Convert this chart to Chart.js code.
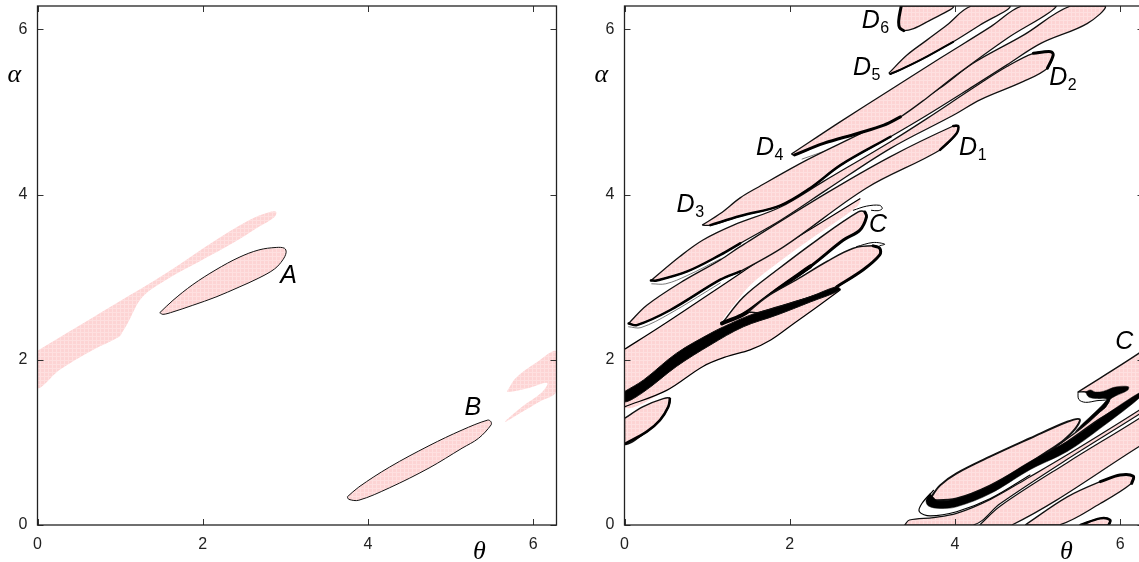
<!DOCTYPE html>
<html>
<head>
<meta charset="utf-8">
<title>theta alpha regions</title>
<script src="https://cdn.jsdelivr.net/npm/chart.js"></script>
<style>
  html, body { margin: 0; padding: 0; background: #fff; overflow: hidden; }
  #wrap { position: relative; width: 1139px; height: 562px; overflow: hidden; }
  canvas { position: absolute; top: 0; }
</style>
</head>
<body>
<div id="wrap">
  <canvas id="left" width="570" height="562" style="left:0"></canvas>
  <canvas id="right" width="570" height="562" style="left:587px"></canvas>
</div>
<script>
// axes
const tickValues = [0, 2, 4, 6];
const axisMax = 6.283;

// left panel
const bandTheta = [0, 0.35, 0.95, 1.56, 2.16, 2.56, 2.81, 2.89, 2.87, 2.68, 2.36, 1.96, 1.56, 1.27, 1.09, 1.03, 0.99, 0.67, 0.27, 0];
const bandAlpha = [2.11, 2.32, 2.68, 3.05, 3.45, 3.69, 3.79, 3.79, 3.73, 3.61, 3.41, 3.19, 2.97, 2.76, 2.44, 2.34, 2.28, 2.12, 1.88, 1.66];
const wedgeTheta = [5.69, 5.79, 6.03, 6.283, 6.283, 6.07, 5.85, 5.66, 5.85, 6.1, 6.17, 5.95, 5.69];
const wedgeAlpha = [1.63, 1.78, 1.96, 2.1, 1.62, 1.49, 1.36, 1.25, 1.42, 1.6, 1.72, 1.66, 1.61];
const aTheta = [1.48, 1.64, 1.88, 2.16, 2.44, 2.68, 2.89, 2.99, 3.01, 2.97, 2.87, 2.68, 2.44, 2.16, 1.88, 1.64, 1.52];
const aAlpha = [2.57, 2.72, 2.91, 3.09, 3.24, 3.33, 3.36, 3.35, 3.3, 3.21, 3.1, 2.99, 2.88, 2.76, 2.66, 2.58, 2.55];
const bTheta = [3.75, 3.89, 4.26, 4.74, 5.14, 5.45, 5.49, 5.49, 5.34, 5.14, 4.74, 4.26, 3.89, 3.77];
const bAlpha = [0.34, 0.46, 0.7, 0.96, 1.15, 1.27, 1.25, 1.21, 1.05, 0.93, 0.69, 0.45, 0.3, 0.31];

// right panel, upper fingers
const d1Theta = [0.05, 0.27, 0.67, 1.16, 1.4, 2.45, 3.22, 3.98, 4.04, 4.02, 3.82, 2.93, 1.93, 1.4, 1.16, 0.55, 0.15];
const d1Alpha = [2.44, 2.66, 2.93, 3.21, 3.37, 4.02, 4.46, 4.83, 4.83, 4.74, 4.54, 4.08, 3.37, 3.07, 2.97, 2.6, 2.42];
const d2Theta = [0.32, 0.67, 0.95, 1.32, 1.89, 2.41, 3.22, 3.66, 4.22, 4.63, 4.95, 5.16, 5.19, 5.12, 4.83, 4.31, 3.98, 3.22, 2.45, 1.89, 1.4, 1.16, 0.76, 0.39];
const d2Alpha = [2.96, 3.25, 3.45, 3.63, 3.85, 4.16, 4.64, 4.92, 5.29, 5.55, 5.71, 5.73, 5.69, 5.53, 5.37, 5.15, 4.96, 4.56, 4.06, 3.69, 3.41, 3.27, 3.07, 2.96];
const d3Theta = [0.94, 1.16, 1.4, 1.6, 2.21, 2.82, 3.34, 3.82, 4.22, 4.83, 5.4, 5.82, 5.6, 5.04, 4.63, 4.22, 3.66, 3.22, 2.62, 2.25, 1.89, 1.4, 1.04];
const d3Alpha = [3.63, 3.77, 3.96, 4.08, 4.42, 4.72, 4.98, 5.29, 5.59, 5.93, 6.283, 6.283, 6.07, 5.83, 5.57, 5.31, 4.96, 4.7, 4.36, 4.08, 3.87, 3.74, 3.63];
const d4Theta = [2.02, 2.61, 3.22, 3.82, 4.43, 4.81, 5.23, 4.63, 4.02, 3.66, 3.34, 3.14, 2.82, 2.41, 2.06];
const d4Alpha = [4.49, 4.88, 5.27, 5.65, 6.03, 6.283, 6.283, 5.89, 5.45, 5.17, 4.94, 4.84, 4.74, 4.62, 4.48];
const d5Theta = [3.2, 3.42, 3.66, 3.9, 4.2, 4.67, 4.3, 3.98, 3.66, 3.38, 3.22];
const d5Alpha = [5.47, 5.69, 5.87, 6.05, 6.283, 6.283, 6.05, 5.85, 5.67, 5.53, 5.46];
const d6Theta = [3.35, 3.32, 3.33, 3.38, 3.5, 3.66, 3.98];
const d6Alpha = [6.283, 6.11, 6.02, 5.985, 6.01, 6.09, 6.283];
// thin lines that run just outside the fingers
const echo1Theta = [0.05, 0.2, 0.55, 1.16];
const echo1Alpha = [2.4, 2.39, 2.56, 2.93];
const echo2Theta = [0.33, 0.5, 0.76, 1.16];
const echo2Alpha = [2.92, 2.92, 3.02, 3.22];
const echo4Theta = [2.15, 2.8, 3.1, 3.4];
const echo4Alpha = [4.43, 4.66, 4.78, 4.98];

// right panel, middle band and the black spine
const midTheta = [0, 0.43, 1.16, 1.77, 2.25, 2.85, 2.82, 2.25, 1.85, 1.56, 1.4, 1.18, 1.5, 1.85, 2.25, 2.57, 2.61, 2.33, 2.05, 1.77, 1.52, 1.24, 0.95, 0.51, 0];
const midAlpha = [2.127, 2.4, 2.885, 3.289, 3.58, 3.95, 3.86, 3.46, 3.17, 2.94, 2.76, 2.44, 2.56, 2.64, 2.76, 2.885, 2.845, 2.64, 2.44, 2.24, 2.12, 2.04, 1.92, 1.63, 1.43];
const cTheta = [1.18, 1.44, 1.85, 2.33, 2.83, 2.91, 2.93, 2.85, 2.65, 2.25, 1.85, 1.52, 1.42];
const cAlpha = [2.44, 2.76, 3.09, 3.45, 3.79, 3.79, 3.73, 3.57, 3.45, 3.13, 2.85, 2.6, 2.54];
const eTheta = [1.5, 1.72, 2.085, 2.45, 2.77, 3.01, 3.09, 3.09, 2.89, 2.57, 2.25, 1.85, 1.61];
const eAlpha = [2.58, 2.76, 2.97, 3.19, 3.35, 3.38, 3.35, 3.27, 3.09, 2.885, 2.76, 2.64, 2.57];
const hook1Theta = [2.77, 2.93, 3.09, 3.12, 3.07, 2.99];
const hook1Alpha = [3.81, 3.86, 3.87, 3.83, 3.805, 3.81];
const hook2Theta = [2.81, 3.01, 3.15, 3.09];
const hook2Alpha = [3.37, 3.42, 3.4, 3.38];
const spineTheta = [0, 0.23, 0.63, 1.04, 1.2, 1.52, 1.84, 2.25, 2.57, 2.61, 2.25, 1.84, 1.44, 1.04, 0.63, 0.23, 0];
const spineAlpha = [1.615, 1.755, 2.08, 2.32, 2.4, 2.54, 2.635, 2.765, 2.885, 2.845, 2.7, 2.54, 2.4, 2.18, 1.92, 1.61, 1.49];
const smallTheta = [0, 0.22, 0.47, 0.55, 0.53, 0.43, 0.27, 0];
const smallAlpha = [1.29, 1.43, 1.53, 1.53, 1.43, 1.27, 1.13, 0.98];

// right panel, lower right corner
const rTheta = [5.49, 6.23, 6.283, 6.283, 6.23, 5.76, 5.36, 5.15, 5.54, 5.76, 5.87, 5.76, 5.65, 5.59, 5.49];
const rAlpha = [1.61, 2.08, 2.14, 1.62, 1.57, 1.29, 1.01, 0.89, 1.18, 1.38, 1.51, 1.55, 1.57, 1.61, 1.61];
const pocketTheta = [5.49, 5.5, 5.58, 5.72, 5.86, 5.88];
const pocketAlpha = [1.61, 1.52, 1.485, 1.505, 1.52, 1.55];
const sTheta = [5.58, 5.64, 5.7, 5.8, 5.94, 6.1, 6.09, 5.94, 5.88, 5.83, 5.76, 5.56, 5.46, 5.51, 5.7, 5.8, 5.84, 5.72, 5.62];
const sAlpha = [1.61, 1.635, 1.61, 1.62, 1.67, 1.675, 1.63, 1.56, 1.52, 1.43, 1.37, 1.2, 1.13, 1.19, 1.37, 1.47, 1.53, 1.53, 1.55];
const hTheta = [3.7, 3.82, 4.02, 4.43, 4.91, 5.36, 5.51, 5.46, 5.32, 5.15, 4.87, 4.43, 4.02, 3.74];
const hAlpha = [0.32, 0.48, 0.625, 0.83, 1.05, 1.25, 1.28, 1.17, 1.03, 0.91, 0.73, 0.48, 0.32, 0.3];
const crescentTheta = [3.7, 3.65, 3.68, 3.82, 4.02, 4.43, 4.91, 5.36, 5.76, 6.283, 6.283, 5.76, 5.36, 4.91, 4.43, 4.02, 3.8, 3.74];
const crescentAlpha = [0.38, 0.3, 0.23, 0.2, 0.22, 0.38, 0.67, 0.89, 1.17, 1.58, 1.63, 1.29, 1.01, 0.77, 0.48, 0.32, 0.29, 0.335];
const loopTheta = [4.91, 4.43, 4.02, 3.7, 3.57, 3.6, 3.74];
const loopAlpha = [0.605, 0.32, 0.16, 0.11, 0.16, 0.26, 0.42];
const kTheta = [3.39, 3.45, 3.74, 4.02, 4.43, 4.91, 5.36, 6.23, 6.283, 6.283, 6.23, 5.36, 4.55, 4.22];
const kAlpha = [0, 0.06, 0.09, 0.14, 0.31, 0.585, 0.85, 1.39, 1.44, 1.38, 1.34, 0.795, 0.26, 0];
const mTheta = [4.3, 4.55, 5.36, 6.23, 6.283, 6.283, 6.23, 4.69];
const mAlpha = [0, 0.23, 0.755, 1.29, 1.34, 1.0, 0.95, 0];
const nTheta = [4.85, 5.36, 5.76, 6.0, 6.16, 6.14, 5.76, 5.26];
const nAlpha = [0, 0.34, 0.525, 0.605, 0.59, 0.505, 0.26, 0];
const pTheta = [5.52, 5.76, 5.88, 5.86];
const pAlpha = [0, 0.08, 0.06, 0];

// labels
const leftLabels = ['A', 'B'];
const leftLabelTheta = [3.04, 5.27];
const leftLabelAlpha = [3.01, 1.42];
const rightLabels = ['C', 'C', 'D', 'D', 'D', 'D', 'D', 'D'];
const rightLabelSubs = ['', '', '1', '2', '3', '4', '5', '6'];
const rightLabelTheta = [3.07, 6.05, 4.16, 5.25, 0.74, 1.7, 2.875, 2.98];
const rightLabelAlpha = [3.63, 2.22, 4.56, 5.41, 3.87, 4.56, 5.53, 6.1];
const axisNames = ['θ', 'α'];
const axisNameTheta = [5.35, -0.28];
const axisNameAlpha = [-0.33, 5.44];

function pinkPattern() {
    const tile = document.createElement('canvas');
    tile.width = 4; tile.height = 4;
    const c = tile.getContext('2d');
    c.fillStyle = '#fdd4d4';
    c.fillRect(0, 0, 4, 4);
    c.fillStyle = '#fee0e0';
    c.fillRect(0, 0, 4, 1);
    c.fillRect(0, 0, 1, 4);
    return c.createPattern(tile, 'repeat');
}
const pink = pinkPattern();

function zip(thetas, alphas) {
    return thetas.map((t, i) => ({x: t, y: alphas[i]}));
}

// closed filled region, width 0 means no outline
function region(thetas, alphas, width, colour) {
    const pts = zip(thetas, alphas);
    pts.push(pts[0]);
    return {
        data: pts, showLine: true, pointRadius: 0, tension: 0.35,
        fill: 'shape', backgroundColor: colour || pink,
        borderColor: '#111', borderWidth: width
    };
}

// open line only
function stroke(thetas, alphas, width, colour) {
    return {
        data: zip(thetas, alphas), showLine: true, pointRadius: 0, tension: 0.35,
        fill: false, borderColor: colour || '#000', borderWidth: width, borderCapStyle: 'round'
    };
}

const leftSets = [
    region(bandTheta, bandAlpha, 0),
    region(wedgeTheta, wedgeAlpha, 0),
    region(aTheta, aAlpha, 1),
    region(bTheta, bAlpha, 1)
];

const rightSets = [
    region(midTheta, midAlpha, 0),
    stroke(midTheta.slice(0, 6), midAlpha.slice(0, 6), 1.2),
    stroke(midTheta.slice(16), midAlpha.slice(16), 1.2),
    region(cTheta, cAlpha, 1.5),
    stroke(cTheta.slice(5), cAlpha.slice(5), 3),
    stroke(cTheta.slice(9).concat(cTheta[0]), cAlpha.slice(9).concat(cAlpha[0]), 4),
    region(eTheta, eAlpha, 1.5),
    stroke(eTheta.slice(5, 10), eAlpha.slice(5, 10), 3),
    stroke(hook1Theta, hook1Alpha, 1),
    stroke(hook2Theta, hook2Alpha, 1),
    region(spineTheta, spineAlpha, 1, '#000'),
    region(smallTheta, smallAlpha, 1.5),
    stroke(smallTheta.slice(3), smallAlpha.slice(3), 2.5),
    stroke(echo1Theta, echo1Alpha, 0.8, '#555'),
    stroke(echo2Theta, echo2Alpha, 0.8, '#555'),
    stroke(echo4Theta, echo4Alpha, 0.8, '#555'),
    region(d1Theta, d1Alpha, 1.3),
    stroke(d1Theta.slice(13).concat(d1Theta[0]), d1Alpha.slice(13).concat(d1Alpha[0]), 2.5),
    stroke(d1Theta.slice(7, 11), d1Alpha.slice(7, 11), 2.5),
    region(d2Theta, d2Alpha, 1.3),
    stroke(d2Theta.slice(20).concat(d2Theta[0]), d2Alpha.slice(20).concat(d2Alpha[0]), 2.5),
    stroke(d2Theta.slice(10, 14), d2Alpha.slice(10, 14), 3),
    region(d3Theta, d3Alpha, 1.3),
    stroke(d3Theta.slice(17), d3Alpha.slice(17), 2.5),
    region(d4Theta, d4Alpha, 1.3),
    stroke(d4Theta.slice(10), d4Alpha.slice(10), 3),
    region(d5Theta, d5Alpha, 1.3),
    stroke(d5Theta.slice(7), d5Alpha.slice(7), 2),
    region(d6Theta, d6Alpha, 1.3),
    stroke(d6Theta.slice(0, 4), d6Alpha.slice(0, 4), 3),
    region(mTheta, mAlpha, 1.2),
    region(kTheta, kAlpha, 1.2),
    region(nTheta, nAlpha, 1.3),
    stroke(nTheta.slice(2, 6), nAlpha.slice(2, 6), 3),
    region(pTheta, pAlpha, 1.3),
    stroke(pTheta, pAlpha, 2.5),
    region(rTheta, rAlpha, 1.4),
    stroke(pocketTheta, pocketAlpha, 1),
    region(sTheta, sAlpha, 0.5, '#000'),
    region(hTheta, hAlpha, 2),
    region(crescentTheta, crescentAlpha, 0.5, '#000'),
    stroke(loopTheta, loopAlpha, 1.2)
];

// frame, inward ticks and the letters on top of the marks
const framePlugin = {
    id: 'frame',
    afterDatasetsDraw(chart, args, opts) {
        const c = chart.ctx, a = chart.chartArea;
        const x = chart.scales.x, y = chart.scales.y;
        c.save();
        c.strokeStyle = '#333';
        c.lineWidth = 1;
        tickValues.forEach(v => {
            const px = Math.round(x.getPixelForValue(v)) + 0.5;
            const py = Math.round(y.getPixelForValue(v)) + 0.5;
            c.beginPath();
            c.moveTo(px, a.bottom); c.lineTo(px, a.bottom - 6);
            c.moveTo(px, a.top); c.lineTo(px, a.top + 6);
            c.moveTo(a.left, py); c.lineTo(a.left + 6, py);
            c.moveTo(a.right, py); c.lineTo(a.right - 6, py);
            c.stroke();
        });
        c.strokeStyle = '#222';
        c.lineWidth = 1.3;
        c.strokeRect(a.left, a.top, a.right - a.left, a.bottom - a.top);

        c.fillStyle = '#000';
        c.textAlign = 'center';
        c.textBaseline = 'middle';
        opts.labels.forEach((t, i) => {
            const px = x.getPixelForValue(opts.labelTheta[i]);
            const py = y.getPixelForValue(opts.labelAlpha[i]);
            c.font = 'italic 25px "Liberation Sans"';
            c.fillText(t, px, py);
            if (opts.subs && opts.subs[i]) {
                c.font = '16px "Liberation Sans"';
                c.fillText(opts.subs[i], px + 14, py + 7);
            }
        });
        c.font = 'italic 26px "Liberation Serif"';
        axisNames.forEach((t, i) => {
            c.fillText(t, x.getPixelForValue(axisNameTheta[i]), y.getPixelForValue(axisNameAlpha[i]));
        });
        c.restore();
    }
};

function makeChart(id, datasets, labels, labelTheta, labelAlpha, subs) {
    const axis = (size) => ({
        type: 'linear', min: 0, max: axisMax,
        grid: {display: false, drawTicks: false},
        border: {display: false},
        afterBuildTicks: s => { s.ticks = tickValues.map(v => ({value: v})); },
        afterFit: s => {
            // fixed plot box, no extra room for the tick labels
            if (size.w) s.width = size.w;
            if (size.h) s.height = size.h;
            s.paddingTop = s.paddingBottom = s.paddingLeft = s.paddingRight = 0;
        },
        ticks: {
            padding: 10, color: '#222', maxRotation: 0, autoSkip: false,
            font: {family: '"Liberation Sans"', size: 16}
        }
    });
    return new Chart(document.getElementById(id), {
        type: 'scatter',
        data: {datasets: datasets.map((d, i) => Object.assign(d, {order: -i}))},
        options: {
            responsive: false,
            animation: false,
            devicePixelRatio: 1,
            layout: {padding: {top: 6, right: 13.5, left: 0, bottom: 0}},
            scales: {x: axis({h: 37}), y: axis({w: 37.5})},
            plugins: {
                legend: {display: false},
                tooltip: {enabled: false},
                frame: {labels, labelTheta, labelAlpha, subs}
            }
        },
        plugins: [framePlugin]
    });
}

makeChart('left', leftSets, leftLabels, leftLabelTheta, leftLabelAlpha);
makeChart('right', rightSets, rightLabels, rightLabelTheta, rightLabelAlpha, rightLabelSubs);
</script>
</body>
</html>
